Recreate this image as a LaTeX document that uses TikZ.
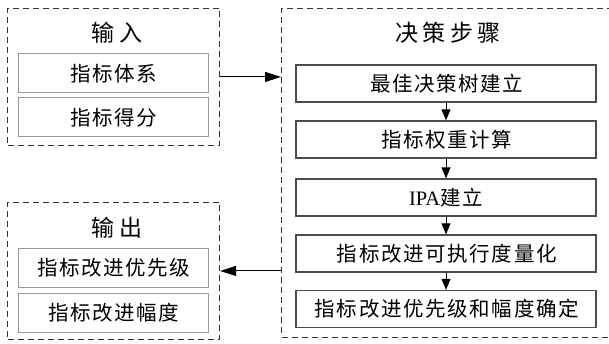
\documentclass[tikz,border=0pt]{standalone}
\usepackage{fontspec}
\setmainfont{Liberation Serif}
\newfontfamily\cjk[LetterSpace=8]{Noto Sans CJK SC}
\newfontfamily\cjktitle[LetterSpace=18]{Noto Sans CJK SC}
\newfontfamily\latin{Liberation Serif}
\usetikzlibrary{positioning,arrows.meta}

\begin{document}
\begin{tikzpicture}[x=1pt,y=1pt,
    group/.style={draw=black!80,dash pattern=on 6pt off 4pt,line width=1.1pt,inner sep=0,anchor=south west},
    item/.style={draw=black!40,line width=1pt,minimum width=190,minimum height=39,inner sep=0,font=\cjk\fontsize{20.5}{20.5}\selectfont},
    stepbox/.style={draw=black!70,line width=1.3pt,minimum width=300,minimum height=37,inner sep=0,font=\cjk\fontsize{20.5}{20.5}\selectfont},
    title/.style={font=\cjktitle\fontsize{23}{23}\selectfont},
    arr/.style={-{Triangle[length=16pt,width=10pt]},line width=1pt},
    down/.style={-{Triangle[length=11pt,width=9pt]},line width=1pt}]
  \useasboundingbox (0,0) rectangle (609,343);

  % Input
  \node[group,minimum width=212,minimum height=137] (in) at (7,197) {};
  \node[title] (intitle) at (115,310) {\hspace{4pt}输入};
  \node[item] (system) at (113,269.5) {\hspace{1.6pt}指标体系};
  \node[item] (score) at (113,225.5) {\hspace{1.6pt}指标得分};

  % Output
  \node[group,minimum width=212,minimum height=137] (out) at (7,3) {};
  \node[title] (outtitle) at (115,115) {\hspace{4pt}输出};
  \node[item] (priority) at (113,75.5) {\hspace{1.6pt}指标改进优先级};
  \node[item] (range) at (113,30) {\hspace{1.6pt}指标改进幅度};

  % Steps
  \node[group,minimum width=331,minimum height=329] (steps) at (281,5) {};
  \node[title] (stitle) at (446,310) {\hspace{4pt}决策步骤};
  \node[stepbox] (tree) at (446,259.5) {\hspace{1.6pt}最佳决策树建立};
  \node[stepbox] (weight) at (446,203.5) {\hspace{1.6pt}指标权重计算};
  \node[stepbox] (ipa) at (446,145.5) {{\latin IPA}建立};
  \node[stepbox] (exec) at (446,89.5) {\hspace{1.6pt}指标改进可执行度量化};
  \node[stepbox] (final) at (446,34) {\hspace{1.6pt}指标改进优先级和幅度确定};

  \foreach \a/\b in {tree/weight,weight/ipa,ipa/exec,exec/final}
    \draw[down] (\a) -- (\b);

  \draw[arr] (in.east) -- (steps.west |- in.east);
  \draw[arr] (steps.west |- out.east) -- (out.east);

\end{tikzpicture}
\end{document}
